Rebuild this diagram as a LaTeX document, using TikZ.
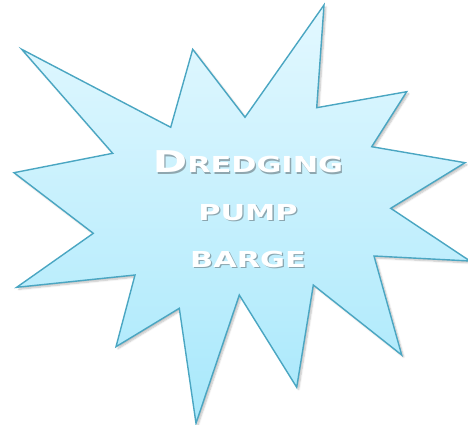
\documentclass[tikz,border=0pt]{standalone}
\usepackage{fontspec}
\usepackage{xcolor}
\usetikzlibrary{shadows.blur}
\newfontfamily\burstfont{DejaVu Sans}[FakeStretch=1.38]
\definecolor{BurstLine}{HTML}{4AA6C2}
\definecolor{BurstTop}{HTML}{E3F8FF}
\definecolor{BurstBottom}{HTML}{A8E8FB}
\definecolor{TextShade}{HTML}{5E6A70}
\tikzset{
  burst/.style={draw=BurstLine,line width=1.4pt,line join=miter,top color=BurstTop,bottom color=BurstBottom,
    blur shadow={shadow xshift=2pt,shadow yshift=-2pt,shadow blur steps=6,shadow opacity=25}},
  bursttext/.style={anchor=base,inner sep=0pt,text=white,font=\burstfont\bfseries\fontsize{22}{26}\selectfont},
  burstshade/.style={bursttext,text=TextShade,opacity=0.55}
}
\newcommand{\leadcap}[1]{{\fontsize{30}{30}\selectfont #1}}
\begin{document}
\begin{tikzpicture}[x=1pt,y=-1pt]
  \useasboundingbox (0,0) rectangle (468,425);
  \begin{scope}
    \clip (0,0) rectangle (468,425);
    \draw[burst] (21.7,49.3) -- (170.7,127.3) -- (192.7,49.3) -- (245,117.3) -- (324,5)
      -- (316.7,107.7) -- (406.7,91.7) -- (371.7,146.7) -- (465,162.7) -- (390.7,208.3)
      -- (470,261) -- (374,256) -- (401.7,355) -- (313.3,285) -- (296.7,387.3)
      -- (239.3,295) -- (196,423.3) -- (179.3,308.3) -- (116,346.7) -- (135,275)
      -- (16.7,287.3) -- (93.3,233.3) -- (14,172.7) -- (112.7,153.3) -- cycle;
  \end{scope}

  % label, with a soft shade under it
  \node[burstshade] (dredgingshade) at (249.3,174) {\leadcap{D}REDGING};
  \node[burstshade] (pumpshade) at (249.3,221.3) {PUMP};
  \node[burstshade] (bargeshade) at (249.3,268.6) {BARGE};
  \node[bursttext] (dredging) at (248,172.7) {\leadcap{D}REDGING};
  \node[bursttext] (pump) at (248,220) {PUMP};
  \node[bursttext] (barge) at (248,267.3) {BARGE};
\end{tikzpicture}
\end{document}
